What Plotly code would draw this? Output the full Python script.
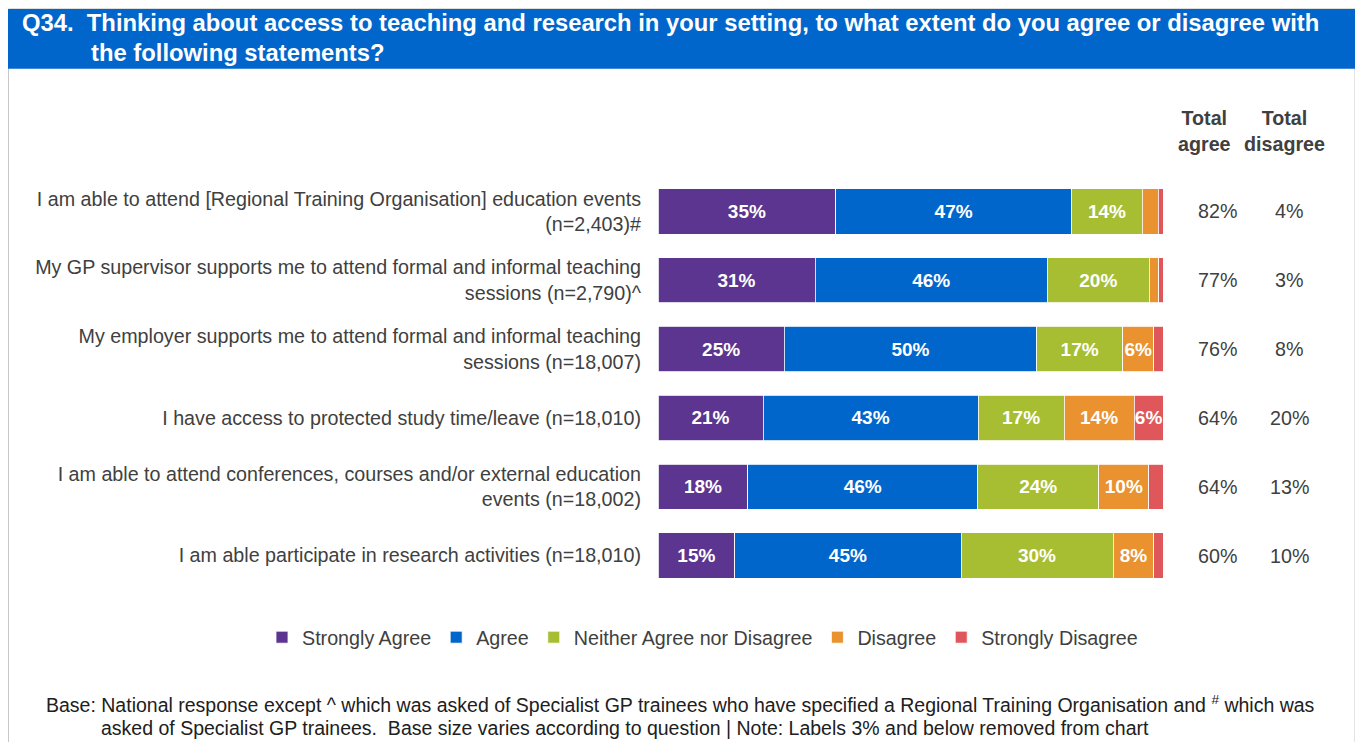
import plotly.graph_objects as go

categories = [
    "I am able to attend [Regional Training Organisation] education events<br>(n=2,403)#",
    "My GP supervisor supports me to attend formal and informal teaching<br>sessions (n=2,790)^",
    "My employer supports me to attend formal and informal teaching<br>sessions (n=18,007)",
    "I have access to protected study time/leave (n=18,010)",
    "I am able to attend conferences, courses and/or external education<br>events (n=18,002)",
    "I am able participate in research activities (n=18,010)",
]
strongly_agree = [35.2, 31.1, 25.0, 20.8, 17.8, 15.2]
agree = [46.7, 46.0, 50.0, 42.6, 45.5, 44.8]
neither = [14.0, 20.2, 17.0, 17.0, 24.0, 30.1]
disagree = [3.2, 1.9, 6.2, 13.9, 9.9, 8.1]
strongly_disagree = [0.9, 0.8, 1.8, 5.7, 2.8, 1.8]
total_agree = ["82%", "77%", "76%", "64%", "64%", "60%"]
total_disagree = ["4%", "3%", "8%", "20%", "13%", "10%"]

series = [
    ("Strongly Agree", strongly_agree, "#5B358F"),
    ("Agree", agree, "#0066CC"),
    ("Neither Agree nor Disagree", neither, "#A8BE32"),
    ("Disagree", disagree, "#E9922F"),
    ("Strongly Disagree", strongly_disagree, "#DF565B"),
]

OFF = 8  # page body margin
W, H = 1347, 734
L = 658 - OFF
R = W - (1163 - OFF)
T = 176.5 - OFF
B = H - (590.5 - OFF)
pw, ph = W - L - R, H - T - B


def px(x):
    return (x - OFF - L) / pw


def py(y):
    return 1 - (y - OFF - T) / ph


FONT = "Liberation Sans, Arial, sans-serif"
FS = 19.7
TXT = "#404040"
fig = go.Figure()
for name, vals, col in series:
    shown = [round(v) > 3 for v in vals]
    fig.add_trace(go.Bar(
        name=name, y=categories, x=vals, orientation="h", marker_color=col,
        marker_line=dict(color="white", width=0.8),
        text=[f"{round(v)}%" for v in vals],
        textposition=["inside" if s else "none" for s in shown],
        insidetextanchor="middle", textangle=0,
        constraintext="none", cliponaxis=True,
        textfont=dict(color="white", size=19, family=FONT, weight="bold"),
        width=0.66, hoverinfo="skip",
    ))

for cat, ta, td in zip(categories, total_agree, total_disagree):
    fig.add_annotation(x=px(1217), y=cat, xref="paper", yref="y", text=ta,
                       xanchor="center", yanchor="middle",
                       showarrow=False, font=dict(size=FS, color=TXT, family=FONT))
    fig.add_annotation(x=px(1289), y=cat, xref="paper", yref="y", text=td,
                       xanchor="center", yanchor="middle",
                       showarrow=False, font=dict(size=FS, color=TXT, family=FONT))

fig.add_annotation(x=px(1204), y=py(130), xref="paper", yref="paper", text="<b>Total<br>agree</b>",
                   xanchor="center", yanchor="middle",
                   showarrow=False, font=dict(size=FS, color=TXT, family=FONT))
fig.add_annotation(x=px(1284), y=py(130), xref="paper", yref="paper", text="<b>Total<br>disagree</b>",
                   xanchor="center", yanchor="middle",
                   showarrow=False, font=dict(size=FS, color=TXT, family=FONT))

# outer frame and header band
fig.add_shape(type="rect", xref="paper", yref="paper", x0=px(8.5), x1=px(1355), y0=py(745), y1=py(8),
              line=dict(color="#C8C8C8", width=1), fillcolor="rgba(0,0,0,0)", layer="below")
fig.add_shape(type="rect", xref="paper", yref="paper", x0=px(8), x1=px(1356), y0=py(68), y1=py(8),
              line=dict(width=0), fillcolor="#0066CC", layer="below")
fig.add_annotation(x=px(20), y=py(22), xref="paper", yref="paper", xanchor="left", yanchor="middle",
                   text="<b>Q34.  Thinking about access to teaching and research in your setting, to what extent do you agree or disagree with</b>",
                   showarrow=False, font=dict(size=23.8, color="white", family=FONT))
fig.add_annotation(x=px(89), y=py(52), xref="paper", yref="paper", xanchor="left", yanchor="middle",
                   text="<b>the following statements?</b>",
                   showarrow=False, font=dict(size=23.8, color="white", family=FONT))

fig.add_annotation(x=px(44), y=py(705), xref="paper", yref="paper", xanchor="left", yanchor="middle",
                   text="Base: National response except ^ which was asked of Specialist GP trainees who have specified a Regional Training Organisation and <sup>#</sup> which was",
                   showarrow=False, font=dict(size=19.5, color="#202020", family=FONT))
fig.add_annotation(x=px(99), y=py(729), xref="paper", yref="paper", xanchor="left", yanchor="middle",
                   text="asked of Specialist GP trainees.  Base size varies according to question | Note: Labels 3% and below removed from chart",
                   showarrow=False, font=dict(size=19.5, color="#202020", family=FONT))

fig.update_layout(
    width=W, height=H, barmode="stack", bargap=0.34,
    margin=dict(l=L, r=R, t=T, b=B, autoexpand=False),
    paper_bgcolor="white", plot_bgcolor="white",
    font=dict(family=FONT, size=FS, color=TXT),
    xaxis=dict(range=[0, 100], visible=False, fixedrange=True),
    yaxis=dict(autorange="reversed", showgrid=False, zeroline=False, showline=False,
               ticks="", ticklabelstandoff=16, tickfont=dict(size=FS, color=TXT, family=FONT)),
    showlegend=True,
    legend=dict(orientation="h", x=px(262), xanchor="left", y=py(638), yanchor="middle",
                font=dict(size=FS, color=TXT, family=FONT), traceorder="normal",
                itemwidth=30, tracegroupgap=0, bgcolor="rgba(0,0,0,0)"),
)
fig.write_html("out.html")
